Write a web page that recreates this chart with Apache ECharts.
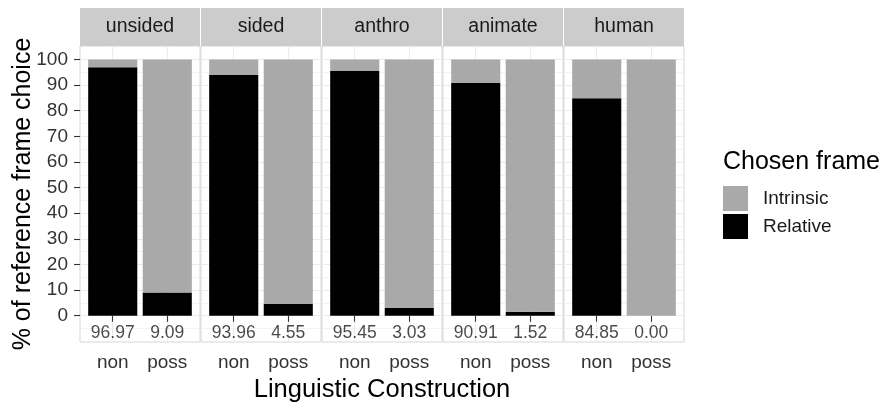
<!DOCTYPE html>
<html><head><meta charset="utf-8">
<script src="https://cdn.jsdelivr.net/npm/echarts@6/dist/echarts.min.js"></script>
<style>html,body{margin:0;padding:0;background:#fff}#c{width:889px;height:404px}</style>
</head><body><div id="c"></div>
<script>
// ---- data ----
const facets = ['unsided', 'sided', 'anthro', 'animate', 'human'];
const constructions = ['non', 'poss'];
const relative = [[96.97, 9.09], [93.96, 4.55], [95.45, 3.03], [90.91, 1.52], [84.85, 0.00]];
const intrinsic = [[3.03, 90.91], [6.04, 95.45], [4.55, 96.97], [9.09, 98.48], [15.15, 100.00]];
const yTicks = [0, 10, 20, 30, 40, 50, 60, 70, 80, 90, 100];
const yMinor = [-5, 5, 15, 25, 35, 45, 55, 65, 75, 85, 95];
const labelY = -7;

// ---- layout / style ----
const FONT = '"Liberation Sans", Arial, sans-serif';
const L0 = 80, PW = 120, GAP = 1, PT = 46, PH = 296, ST = 8, SH = 38;
const YMIN = -10.25, YMAX = 105.25;
const barW = PW / 2.2 * 0.9;

const grids = [], xAxes = [], yAxes = [], series = [], graphics = [];
facets.forEach((f, i) => {
  const left = L0 + i * (PW + GAP);
  grids.push({left: left, top: PT, width: PW, height: PH, show: true,
    borderColor: '#d6d6d6', borderWidth: 1, backgroundColor: '#fff'});
  xAxes.push({type: 'value', gridIndex: i, min: 0.4, max: 2.6,
    axisLine: {show: false},
    axisTick: {show: true, customValues: [1, 2], length: 6, lineStyle: {color: '#333', width: 1.1}},
    axisLabel: {customValues: [1, 2], formatter: v => constructions[Math.round(v) - 1],
      fontSize: 19, color: '#333', margin: 11, fontFamily: FONT},
    splitLine: {show: true, lineStyle: {color: '#ebebeb', width: 1.1}}});
  yAxes.push({type: 'value', gridIndex: i, min: YMIN, max: YMAX,
    axisLine: {show: false},
    axisTick: {show: i === 0, customValues: yTicks, length: 6, lineStyle: {color: '#333', width: 1.1}},
    axisLabel: {show: i === 0, customValues: yTicks, fontSize: 19, color: '#333', margin: 12, fontFamily: FONT},
    splitLine: {show: true, lineStyle: {color: '#ebebeb', width: 1.1}},
    name: i === 0 ? '% of reference frame choice' : '',
    nameLocation: 'middle', nameGap: 44, nameRotate: 90, nameMoveOverlap: false,
    nameTextStyle: {fontSize: 25, color: '#000', fontFamily: FONT}});
  yAxes.push({type: 'value', gridIndex: i, min: YMIN, max: YMAX, position: 'right',
    axisLine: {show: false},
    axisTick: {show: false, customValues: yMinor},
    axisLabel: {show: false, customValues: yMinor},
    splitLine: {show: true, lineStyle: {color: '#ebebeb', width: 0.6}}});
  // value first, position second, so that stacking runs along y
  series.push({type: 'bar', name: 'Relative', xAxisIndex: i, yAxisIndex: 2 * i, stack: 'f' + i,
    encode: {x: 1, y: 0},
    barWidth: barW, itemStyle: {color: '#000'}, z: 3, silent: true,
    data: constructions.map((c, j) => [relative[i][j], j + 1])});
  series.push({type: 'bar', name: 'Intrinsic', xAxisIndex: i, yAxisIndex: 2 * i, stack: 'f' + i,
    encode: {x: 1, y: 0},
    barWidth: barW, itemStyle: {color: '#a9a9a9'}, z: 3, silent: true,
    data: constructions.map((c, j) => [intrinsic[i][j], j + 1])});
  series.push({type: 'scatter', name: 'lbl', xAxisIndex: i, yAxisIndex: 2 * i, symbolSize: 1,
    itemStyle: {color: 'rgba(0,0,0,0)'}, silent: true, z: 4,
    label: {show: true, position: 'inside', fontSize: 17.5, color: '#1a1a1a', fontFamily: FONT,
      formatter: p => relative[i][p.dataIndex].toFixed(2)},
    data: constructions.map((c, j) => [j + 1, labelY])});
  graphics.push({type: 'rect', shape: {x: left, y: ST, width: PW, height: SH}, style: {fill: '#cccccc'}});
  graphics.push({type: 'text', x: left + PW / 2, y: ST + SH / 2,
    style: {text: f, fill: '#1a1a1a', font: '19.5px ' + FONT, textAlign: 'center', textVerticalAlign: 'middle'}});
});
graphics.push({type: 'text', x: L0 + (5 * PW + 4 * GAP) / 2, y: 390,
  style: {text: 'Linguistic Construction', fill: '#000', font: '25.5px ' + FONT, textAlign: 'center', textVerticalAlign: 'middle'}});
graphics.push({type: 'text', x: 723, y: 162,
  style: {text: 'Chosen frame', fill: '#000', font: '25px ' + FONT, textAlign: 'left', textVerticalAlign: 'middle'}});

const chart = echarts.init(document.getElementById('c'), null, {renderer: 'canvas'});
chart.setOption({
  animation: false,
  backgroundColor: '#fff',
  grid: grids, xAxis: xAxes, yAxis: yAxes, series: series,
  legend: {data: ['Intrinsic', 'Relative'], orient: 'vertical', left: 723, top: 186, padding: 0,
    itemWidth: 25, itemHeight: 25, itemGap: 3, icon: 'rect', selectedMode: false,
    textStyle: {fontSize: 19, color: '#1a1a1a', fontFamily: FONT, padding: [0, 0, 0, 10]}},
  graphic: graphics
});
</script></body></html>
